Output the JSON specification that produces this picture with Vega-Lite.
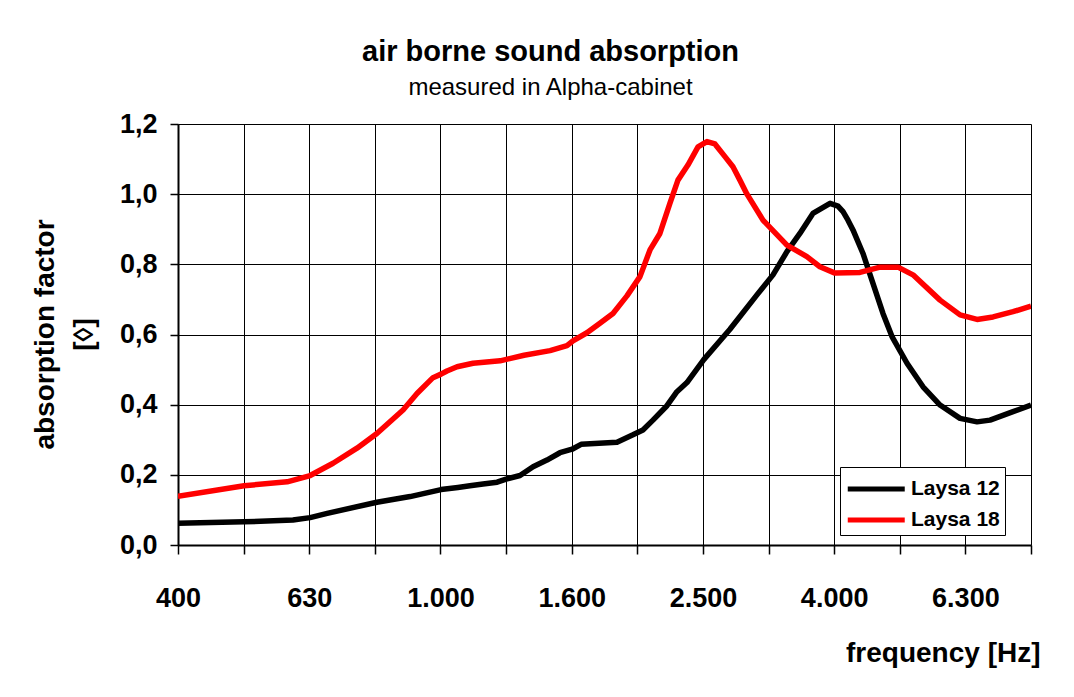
{
  "$schema": "https://vega.github.io/schema/vega-lite/v6.json",
  "width": 853,
  "height": 421,
  "autosize": {"type": "none"},
  "padding": {"left": 178, "top": 124, "right": 43, "bottom": 152},
  "background": "white",
  "config": {
    "locale": {"number": {"decimal": ",", "thousands": ".", "grouping": [3], "currency": ["", " €"]}},
    "font": "Liberation Sans",
    "view": {"stroke": null}
  },
  "title": {
    "text": "air borne sound absorption",
    "subtitle": "measured in Alpha-cabinet",
    "anchor": "middle",
    "frame": "group",
    "dx": -54,
    "offset": 10,
    "font": "Liberation Sans",
    "fontSize": 29,
    "fontWeight": "bold",
    "color": "#000000",
    "subtitleFont": "Liberation Sans",
    "subtitleFontSize": 24,
    "subtitleColor": "#000000",
    "subtitlePadding": 9
  },
  "data": {
    "values": [
      {"series": "Laysa 12", "frequency": 398, "absorption": 0.062},
      {"series": "Laysa 12", "frequency": 502, "absorption": 0.066},
      {"series": "Laysa 12", "frequency": 596, "absorption": 0.071},
      {"series": "Laysa 12", "frequency": 633, "absorption": 0.078},
      {"series": "Laysa 12", "frequency": 672, "absorption": 0.09},
      {"series": "Laysa 12", "frequency": 800, "absorption": 0.122},
      {"series": "Laysa 12", "frequency": 899, "absorption": 0.138},
      {"series": "Laysa 12", "frequency": 1002, "absorption": 0.158},
      {"series": "Laysa 12", "frequency": 1063, "absorption": 0.164},
      {"series": "Laysa 12", "frequency": 1109, "absorption": 0.169},
      {"series": "Laysa 12", "frequency": 1161, "absorption": 0.174},
      {"series": "Laysa 12", "frequency": 1220, "absorption": 0.179},
      {"series": "Laysa 12", "frequency": 1259, "absorption": 0.188},
      {"series": "Laysa 12", "frequency": 1322, "absorption": 0.198},
      {"series": "Laysa 12", "frequency": 1384, "absorption": 0.223},
      {"series": "Laysa 12", "frequency": 1453, "absorption": 0.242},
      {"series": "Laysa 12", "frequency": 1521, "absorption": 0.263},
      {"series": "Laysa 12", "frequency": 1587, "absorption": 0.273},
      {"series": "Laysa 12", "frequency": 1638, "absorption": 0.287},
      {"series": "Laysa 12", "frequency": 1858, "absorption": 0.293},
      {"series": "Laysa 12", "frequency": 1965, "absorption": 0.314},
      {"series": "Laysa 12", "frequency": 2035, "absorption": 0.328},
      {"series": "Laysa 12", "frequency": 2108, "absorption": 0.356},
      {"series": "Laysa 12", "frequency": 2214, "absorption": 0.397},
      {"series": "Laysa 12", "frequency": 2293, "absorption": 0.437},
      {"series": "Laysa 12", "frequency": 2375, "absorption": 0.463},
      {"series": "Laysa 12", "frequency": 2521, "absorption": 0.529},
      {"series": "Laysa 12", "frequency": 2762, "absorption": 0.615},
      {"series": "Laysa 12", "frequency": 3036, "absorption": 0.713},
      {"series": "Laysa 12", "frequency": 3212, "absorption": 0.77},
      {"series": "Laysa 12", "frequency": 3373, "absorption": 0.836},
      {"series": "Laysa 12", "frequency": 3530, "absorption": 0.888},
      {"series": "Laysa 12", "frequency": 3695, "absorption": 0.945},
      {"series": "Laysa 12", "frequency": 3924, "absorption": 0.974},
      {"series": "Laysa 12", "frequency": 4035, "absorption": 0.966},
      {"series": "Laysa 12", "frequency": 4107, "absorption": 0.95},
      {"series": "Laysa 12", "frequency": 4179, "absorption": 0.926},
      {"series": "Laysa 12", "frequency": 4253, "absorption": 0.898},
      {"series": "Laysa 12", "frequency": 4405, "absorption": 0.831},
      {"series": "Laysa 12", "frequency": 4562, "absorption": 0.746},
      {"series": "Laysa 12", "frequency": 4725, "absorption": 0.66},
      {"series": "Laysa 12", "frequency": 4877, "absorption": 0.594},
      {"series": "Laysa 12", "frequency": 5141, "absorption": 0.518},
      {"series": "Laysa 12", "frequency": 5438, "absorption": 0.451},
      {"series": "Laysa 12", "frequency": 5773, "absorption": 0.399},
      {"series": "Laysa 12", "frequency": 6193, "absorption": 0.361},
      {"series": "Laysa 12", "frequency": 6573, "absorption": 0.351},
      {"series": "Laysa 12", "frequency": 6880, "absorption": 0.356},
      {"series": "Laysa 12", "frequency": 7458, "absorption": 0.38},
      {"series": "Laysa 12", "frequency": 7943, "absorption": 0.399},
      {"series": "Laysa 18", "frequency": 398, "absorption": 0.139},
      {"series": "Laysa 18", "frequency": 502, "absorption": 0.169},
      {"series": "Laysa 18", "frequency": 584, "absorption": 0.18},
      {"series": "Laysa 18", "frequency": 633, "absorption": 0.198},
      {"series": "Laysa 18", "frequency": 686, "absorption": 0.233},
      {"series": "Laysa 18", "frequency": 746, "absorption": 0.276},
      {"series": "Laysa 18", "frequency": 800, "absorption": 0.318},
      {"series": "Laysa 18", "frequency": 877, "absorption": 0.385},
      {"series": "Laysa 18", "frequency": 921, "absorption": 0.432},
      {"series": "Laysa 18", "frequency": 974, "absorption": 0.477},
      {"series": "Laysa 18", "frequency": 1002, "absorption": 0.487},
      {"series": "Laysa 18", "frequency": 1023, "absorption": 0.496},
      {"series": "Laysa 18", "frequency": 1060, "absorption": 0.508},
      {"series": "Laysa 18", "frequency": 1121, "absorption": 0.518},
      {"series": "Laysa 18", "frequency": 1233, "absorption": 0.525},
      {"series": "Laysa 18", "frequency": 1341, "absorption": 0.541},
      {"series": "Laysa 18", "frequency": 1469, "absorption": 0.554},
      {"series": "Laysa 18", "frequency": 1559, "absorption": 0.568},
      {"series": "Laysa 18", "frequency": 1592, "absorption": 0.582},
      {"series": "Laysa 18", "frequency": 1672, "absorption": 0.605},
      {"series": "Laysa 18", "frequency": 1750, "absorption": 0.632},
      {"series": "Laysa 18", "frequency": 1832, "absorption": 0.66},
      {"series": "Laysa 18", "frequency": 1924, "absorption": 0.71},
      {"series": "Laysa 18", "frequency": 2014, "absorption": 0.765},
      {"series": "Laysa 18", "frequency": 2086, "absorption": 0.841},
      {"series": "Laysa 18", "frequency": 2160, "absorption": 0.888},
      {"series": "Laysa 18", "frequency": 2237, "absorption": 0.974},
      {"series": "Laysa 18", "frequency": 2301, "absorption": 1.04},
      {"series": "Laysa 18", "frequency": 2383, "absorption": 1.083},
      {"series": "Laysa 18", "frequency": 2469, "absorption": 1.135},
      {"series": "Laysa 18", "frequency": 2548, "absorption": 1.15},
      {"series": "Laysa 18", "frequency": 2620, "absorption": 1.143},
      {"series": "Laysa 18", "frequency": 2714, "absorption": 1.107},
      {"series": "Laysa 18", "frequency": 2791, "absorption": 1.078},
      {"series": "Laysa 18", "frequency": 2860, "absorption": 1.04},
      {"series": "Laysa 18", "frequency": 2932, "absorption": 1.0},
      {"series": "Laysa 18", "frequency": 3101, "absorption": 0.926},
      {"series": "Laysa 18", "frequency": 3373, "absorption": 0.855},
      {"series": "Laysa 18", "frequency": 3618, "absorption": 0.822},
      {"series": "Laysa 18", "frequency": 3787, "absorption": 0.793},
      {"series": "Laysa 18", "frequency": 3993, "absorption": 0.775},
      {"series": "Laysa 18", "frequency": 4359, "absorption": 0.777},
      {"series": "Laysa 18", "frequency": 4676, "absorption": 0.792},
      {"series": "Laysa 18", "frequency": 4981, "absorption": 0.792},
      {"series": "Laysa 18", "frequency": 5250, "absorption": 0.77},
      {"series": "Laysa 18", "frequency": 5773, "absorption": 0.698},
      {"series": "Laysa 18", "frequency": 6193, "absorption": 0.656},
      {"series": "Laysa 18", "frequency": 6573, "absorption": 0.643},
      {"series": "Laysa 18", "frequency": 6953, "absorption": 0.65},
      {"series": "Laysa 18", "frequency": 7458, "absorption": 0.665},
      {"series": "Laysa 18", "frequency": 7943, "absorption": 0.681}
    ]
  },
  "mark": {"type": "line", "strokeWidth": 5.5, "strokeJoin": "round", "strokeCap": "butt", "clip": true},
  "encoding": {
    "x": {
      "field": "frequency",
      "type": "quantitative",
      "scale": {"type": "log", "domain": [398.107, 7943.282], "nice": false},
      "axis": {
        "values": [398.107, 501.187, 630.957, 794.328, 1000, 1258.925, 1584.893, 1995.262, 2511.886, 3162.278, 3981.072, 5011.872, 6309.573, 7943.282],
        "labelExpr": "datum.value < 450 ? '400' : (datum.value > 600 && datum.value < 700) ? '630' : abs(datum.value - 1000) < 1 ? '1.000' : abs(datum.value - 1584.893) < 1 ? '1.600' : abs(datum.value - 2511.886) < 1 ? '2.500' : abs(datum.value - 3981.072) < 1 ? '4.000' : abs(datum.value - 6309.573) < 1 ? '6.300' : ''",
        "title": "frequency [Hz]",
        "titleFont": "Liberation Sans",
        "titleFontSize": 28,
        "titleFontWeight": "bold",
        "titleColor": "#000000",
        "titleAlign": "right",
        "titleBaseline": "alphabetic",
        "titleX": 862,
        "titleY": 116,
        "labelFont": "Liberation Sans",
        "labelFontSize": 27,
        "labelFontWeight": "bold",
        "labelColor": "#000000",
        "labelPadding": 31,
        "labelOverlap": false,
        "labelFlush": false,
        "domainColor": "#000000",
        "domainWidth": 2,
        "tickColor": "#000000",
        "tickWidth": 1.5,
        "tickSize": 9,
        "grid": true,
        "gridColor": "#000000",
        "gridWidth": 1,
        "gridOpacity": 1
      }
    },
    "y": {
      "field": "absorption",
      "type": "quantitative",
      "scale": {"domain": [0, 1.2], "nice": false, "zero": true},
      "axis": {
        "values": [0, 0.2, 0.4, 0.6, 0.8, 1.0, 1.2],
        "format": ".1f",
        "title": ["absorption factor", "[◊]"],
        "titleFont": "Liberation Sans",
        "titleFontSize": 28,
        "titleFontWeight": "bold",
        "titleColor": "#000000",
        "titleAngle": -90,
        "titleAlign": "center",
        "titleBaseline": "middle",
        "titleLineHeight": 39,
        "titleX": -133,
        "titleY": 210,
        "labelFont": "Liberation Sans",
        "labelFontSize": 27,
        "labelFontWeight": "bold",
        "labelColor": "#000000",
        "labelPadding": 13,
        "domainColor": "#000000",
        "domainWidth": 2,
        "tickColor": "#000000",
        "tickWidth": 1.5,
        "tickSize": 8,
        "grid": true,
        "gridColor": "#000000",
        "gridWidth": 1,
        "gridOpacity": 1
      }
    },
    "color": {
      "field": "series",
      "type": "nominal",
      "scale": {"domain": ["Laysa 12", "Laysa 18"], "range": ["#000000", "#ff0000"]},
      "legend": {
        "title": null,
        "orient": "none",
        "legendX": 662,
        "legendY": 343,
        "direction": "vertical",
        "fillColor": "#ffffff",
        "strokeColor": "#000000",
        "padding": 5,
        "rowPadding": 4,
        "symbolType": "M-1,0H3",
        "symbolSize": 812,
        "symbolStrokeWidth": 5,
        "symbolOpacity": 1,
        "labelOffset": 32,
        "labelFont": "Liberation Sans",
        "labelFontSize": 21,
        "labelFontWeight": "bold",
        "labelColor": "#000000"
      }
    }
  }
}
